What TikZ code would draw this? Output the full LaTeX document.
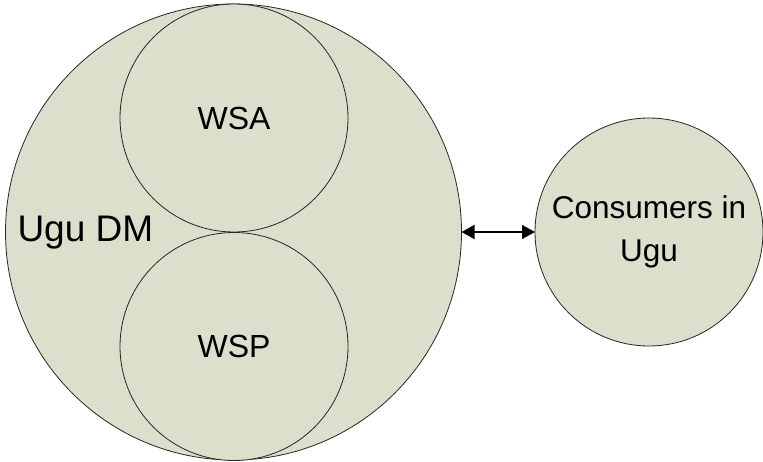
\documentclass[tikz,border=0pt]{standalone}
\usepackage{fontspec}
\setmainfont{Liberation Sans}
\usetikzlibrary{arrows.meta, positioning}
\definecolor{disc_fill}{RGB}{220,223,204}
\tikzset{
  big_disc/.style={circle, draw=black!85, fill=disc_fill, line width=0.8pt, inner sep=0pt, outer sep=0pt, minimum size=456pt},
  small_disc/.style={circle, draw=black!85, fill=disc_fill, line width=0.8pt, inner sep=0pt, outer sep=0pt, minimum size=228pt, align=center},
  label_text/.style={font=\fontsize{32}{38}\selectfont},
  link_arrow/.style={{Triangle[length=13pt, width=14pt]}-{Triangle[length=13pt, width=14pt]}, line width=1.6pt, black}
}

\begin{document}
\begin{tikzpicture}[x=1pt, y=-1pt]
  \useasboundingbox (0,0) rectangle (763,461);

  % Outer municipality circle
  \node[big_disc] (dm) at (233.5,232) {};

  % Inner bodies
  \node[small_disc, label_text] (wsa) at (234,118) {WSA};
  \node[small_disc, label_text] (wsp) at (234,346.5) {WSP};

  \node[font=\fontsize{37}{44}\selectfont, anchor=west] (dmlabel) at (14,233) {Ugu DM};

  % Consumers
  \node[small_disc, font=\fontsize{31.5}{43}\selectfont] (cons) at (649,232) {Consumers in\\Ugu};

  % Two-way link
  \draw[link_arrow] (dm.east) -- (cons.west);

\end{tikzpicture}
\end{document}
